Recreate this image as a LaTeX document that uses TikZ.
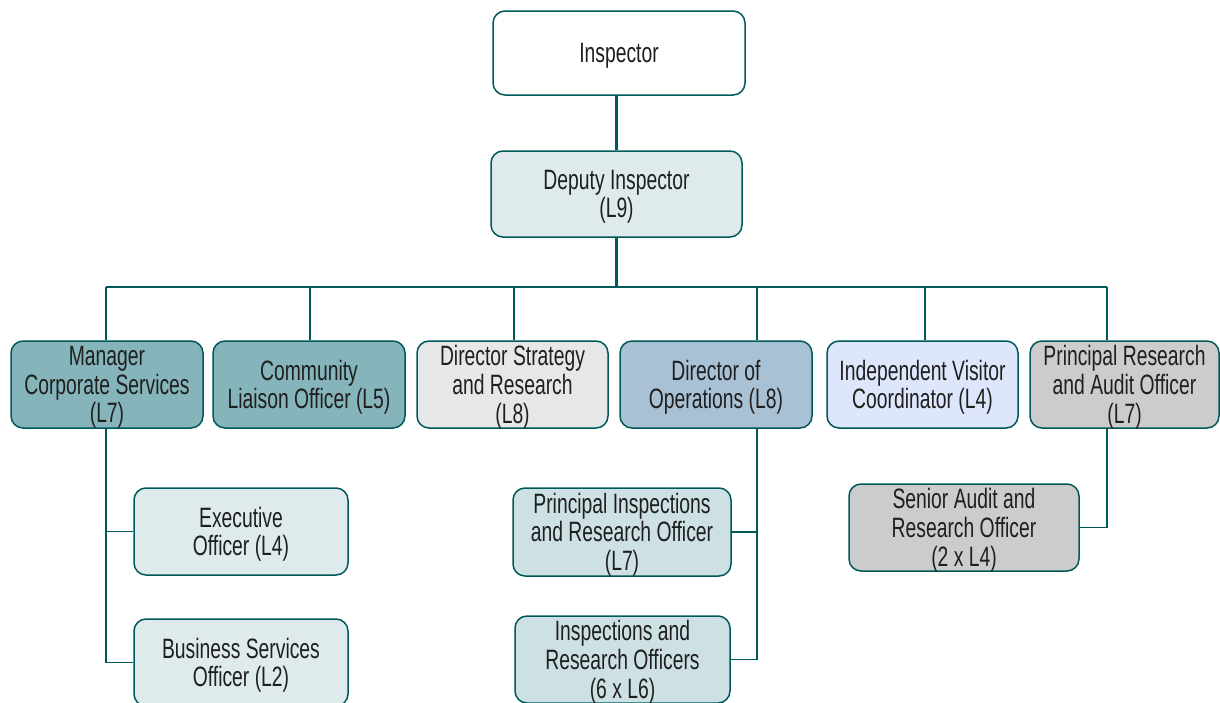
\documentclass[tikz,border=0pt]{standalone}
\usepackage{fontspec}
\setmainfont[FakeStretch=0.69]{Liberation Sans}
\newcommand\btxt[1]{\raisebox{-2pt}[\height][\depth]{\begin{tabular}{@{}c@{}}#1\end{tabular}}}
\begin{document}
\begin{tikzpicture}[x=0.5pt,y=-0.5pt,
  box/.style={draw=teal!70!black, line width=0.75pt, rounded corners=6pt, inner sep=0pt,
    text=black!88, font=\fontsize{14}{14}\selectfont},
  conn/.style={draw=teal!70!black, line width=0.75pt},
  thick conn/.style={draw=teal!70!black, line width=1.5pt}]
\definecolor{cWhite}{HTML}{FFFFFF}
\definecolor{cLight}{HTML}{DEEAEC}
\definecolor{cTeal}{HTML}{85B4BA}
\definecolor{cGrey}{HTML}{E5E7E9}
\definecolor{cBlue}{HTML}{A9C1D5}
\definecolor{cLav}{HTML}{DDE6FB}
\definecolor{cSilver}{HTML}{CCCCCC}
\definecolor{cAqua}{HTML}{CDE1E4}
\clip (0,0) rectangle (1220,702);
\fill[white] (0,0) rectangle (1220,702);
% top
\node[box, fill=cWhite, minimum width=126pt, minimum height=42pt] (insp) at (619,53) {\btxt{Inspector}};
\node[box, fill=cLight, minimum width=125.5pt, minimum height=43pt] (dep) at (616.5,194) {\btxt{Deputy Inspector\\(L9)}};
% row
\node[box, fill=cTeal, minimum width=96pt, minimum height=43.5pt] (mgr) at (107,384.5) {\btxt{Manager\\Corporate Services\\(L7)}};
\node[box, fill=cTeal, minimum width=96pt, minimum height=43.5pt] (clo) at (309,384.5) {\btxt{Community\\Liaison Officer (L5)}};
\node[box, fill=cGrey, minimum width=95.5pt, minimum height=43.5pt] (dsr) at (512.5,384.5) {\btxt{Director Strategy\\and Research\\(L8)}};
\node[box, fill=cBlue, minimum width=96pt, minimum height=43.5pt] (ops) at (716,384.5) {\btxt{Director of\\Operations (L8)}};
\node[box, fill=cLav, minimum width=95.5pt, minimum height=43.5pt] (ivc) at (922.5,384.5) {\btxt{Independent Visitor\\Coordinator (L4)}};
\node[box, fill=cSilver, minimum width=94.5pt, minimum height=43.5pt] (pra) at (1124.5,384.5) {\btxt{Principal Research\\and Audit Officer\\(L7)}};
% children
\node[box, fill=cLight, minimum width=107pt, minimum height=43.5pt] (exe) at (241,531.5) {\btxt{Executive\\Officer (L4)}};
\node[box, fill=cLight, minimum width=107pt, minimum height=43.5pt] (bso) at (241,662.5) {\btxt{Business Services\\Officer (L2)}};
\node[box, fill=cAqua, minimum width=109pt, minimum height=44pt] (pio) at (622,532) {\btxt{Principal Inspections\\and Research Officer\\(L7)}};
\node[box, fill=cAqua, minimum width=107.5pt, minimum height=43.5pt] (iro) at (622.5,659.5) {\btxt{Inspections and\\Research Officers\\(6 x L6)}};
\node[box, fill=cSilver, minimum width=115pt, minimum height=43.5pt] (sar) at (964,527.5) {\btxt{Senior Audit and\\Research Officer\\(2 x L4)}};
% connectors
\coordinate (bus) at (616.5,287);
\coordinate (b1) at (106,287);
\coordinate (b2) at (310,287);
\coordinate (b3) at (514,287);
\coordinate (b4) at (757,287);
\coordinate (b5) at (925,287);
\coordinate (b6) at (1107,287);
\draw[thick conn] (dep.north |- insp.south) -- (dep.north);
\draw[thick conn] (dep.south) -- (bus);
\draw[conn] (b1) -- (b6);
\draw[conn] (b1) -- (b1 |- mgr.north);
\draw[conn] (b2) -- (b2 |- clo.north);
\draw[conn] (b3) -- (b3 |- dsr.north);
\draw[conn] (b4) -- (b4 |- ops.north);
\draw[conn] (b5) -- (b5 |- ivc.north);
\draw[conn] (b6) -- (b6 |- pra.north);
% manager branch
\draw[conn] (b1 |- mgr.south) |- (bso.west);
\draw[conn] (b1 |- exe.west) -- (exe.west);
% operations branch
\draw[conn] (b4 |- ops.south) |- (iro.east);
\draw[conn] (b4 |- pio.east) -- (pio.east);
% principal research branch
\draw[conn] (b6 |- pra.south) |- (sar.east);
\end{tikzpicture}
\end{document}
